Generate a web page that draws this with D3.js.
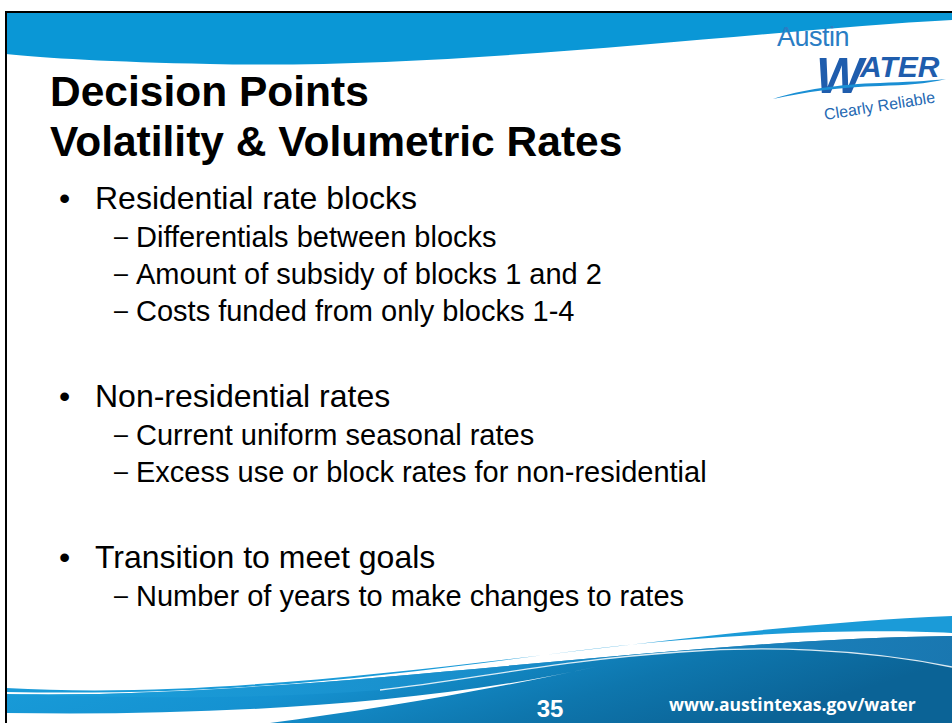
<!DOCTYPE html>
<html>
<head>
<meta charset="utf-8">
<script src="https://cdn.jsdelivr.net/npm/d3@7"></script>
<style>
  body { margin: 0; background: #ffffff; }
  svg { display: block; }
</style>
</head>
<body>
<script>
var w = 952;
var h = 723;

// slide content
var titleLines = ["Decision Points", "Volatility & Volumetric Rates"];
var bulletLevels = [0, 1, 1, 1, 0, 1, 1, 0, 1];
var bulletTexts = [
  "Residential rate blocks",
  "Differentials between blocks",
  "Amount of subsidy of blocks 1 and 2",
  "Costs funded from only blocks 1-4",
  "Non-residential rates",
  "Current uniform seasonal rates",
  "Excess use or block rates for non-residential",
  "Transition to meet goals",
  "Number of years to make changes to rates"
];
var pageNumber = "35";
var footerUrl = "www.austintexas.gov/water";

var font = "Liberation Sans, Arial, sans-serif";

var svg = d3.select("body").append("svg")
            .attr("width", w)
            .attr("height", h);

var defs = svg.append("defs");

var g1 = defs.append("linearGradient")
    .attr("id", "bottomGrad")
    .attr("x1", "0").attr("y1", "0")
    .attr("x2", "1").attr("y2", "0.3");
g1.append("stop").attr("offset", "0").attr("stop-color", "#1aa0dc");
g1.append("stop").attr("offset", "0.45").attr("stop-color", "#1592d1");
g1.append("stop").attr("offset", "0.75").attr("stop-color", "#0e76ad");
g1.append("stop").attr("offset", "1").attr("stop-color", "#0b6396");

var g2 = defs.append("linearGradient")
    .attr("id", "upperBand")
    .attr("x1", "0").attr("y1", "0")
    .attr("x2", "1").attr("y2", "0");
g2.append("stop").attr("offset", "0").attr("stop-color", "#1aa0dc");
g2.append("stop").attr("offset", "0.5").attr("stop-color", "#1a8fcc");
g2.append("stop").attr("offset", "1").attr("stop-color", "#1b79b3");

// top banner
svg.append("path")
   .attr("d", "M6,12 L952,12 L952,20 C760,30 460,70 210,64 C110,62 45,58 6,54 Z")
   .attr("fill", "#0a97d6");

// bottom swooshes
// main region
svg.append("path")
   .attr("d", "M6,694 C300,700 650,640 952,636 L952,723 L6,723 Z")
   .attr("fill", "url(#bottomGrad)");

// upper part of main region, above the thin white line
svg.append("path")
   .attr("d", "M6,694 C300,700 650,640 952,636 L952,667 C860,648 760,646 680,652 C560,660 470,680 380,690 C250,700 120,698 6,694 Z")
   .attr("fill", "url(#upperBand)")
   .attr("opacity", 0.9);

// thin white line
svg.append("path")
   .attr("d", "M380,690 C470,680 560,660 680,652 C760,646 860,648 952,667")
   .attr("fill", "none")
   .attr("stroke", "#ffffff")
   .attr("stroke-width", 1.3)
   .attr("opacity", 0.85);

// white wedge lower left
svg.append("path")
   .attr("d", "M6,713 C200,716 420,706 600,666 C490,690 370,710 270,723 L6,723 Z")
   .attr("fill", "#ffffff");

// thin top swoosh band
svg.append("path")
   .attr("d", "M6,688 C300,705 650,628 952,616 L952,633 C860,628 720,634 600,648 C420,670 260,697 6,692 Z")
   .attr("fill", "#1b9bd8");

// slide border
svg.append("line")
   .attr("x1", 5).attr("y1", 12).attr("x2", w).attr("y2", 12)
   .attr("stroke", "#000000").attr("stroke-width", 2);
svg.append("line")
   .attr("x1", 6).attr("y1", 11).attr("x2", 6).attr("y2", h)
   .attr("stroke", "#000000").attr("stroke-width", 2);

// logo
var logo = svg.append("g");
logo.append("text")
    .attr("x", 777).attr("y", 46)
    .attr("font-family", font)
    .attr("font-size", "27px")
    .attr("fill", "#2a7dc4")
    .attr("letter-spacing", "-0.5")
    .text("Austin");
logo.append("text")
    .attr("x", 816).attr("y", 93)
    .attr("font-family", font)
    .attr("font-size", "50px")
    .attr("font-weight", "bold")
    .attr("font-style", "italic")
    .attr("fill", "#1f5dad")
    .text("W");
logo.append("text")
    .attr("x", 860).attr("y", 77)
    .attr("font-family", font)
    .attr("font-size", "30px")
    .attr("font-weight", "bold")
    .attr("font-style", "italic")
    .attr("fill", "#1f5dad")
    .text("ATER");
logo.append("path")
    .attr("d", "M773,99 C800,90 840,84 880,83 C905,82 928,81 946,79 C926,84 905,85 880,86 C840,87 805,92 773,99 Z")
    .attr("fill", "#1a8fd4");
logo.append("text")
    .attr("transform", "translate(825,120) rotate(-9)")
    .attr("font-family", font)
    .attr("font-size", "16px")
    .attr("fill", "#2468b2")
    .text("Clearly Reliable");

// title
svg.selectAll(".title")
   .data(titleLines)
   .enter()
   .append("text")
   .attr("class", "title")
   .attr("x", 50)
   .attr("y", function(d, i) { return 106 + i * 50; })
   .attr("font-family", font)
   .attr("font-size", "42.5px")
   .attr("font-weight", "bold")
   .attr("fill", "#000000")
   .text(function(d) { return d; });

// bullets - running baseline
var ys = [];
var y = 209;
bulletLevels.forEach(function(lv, i) {
  if (i > 0) {
    if (lv === 0) y += 86;
    else if (bulletLevels[i - 1] === 0) y += 38;
    else y += 37;
  }
  ys.push(y);
});

var items = svg.selectAll(".item")
   .data(bulletTexts)
   .enter()
   .append("g")
   .attr("class", "item");

items.append("text")
   .attr("x", function(d, i) { return bulletLevels[i] === 0 ? 59 : 114; })
   .attr("y", function(d, i) { return ys[i]; })
   .attr("dy", function(d, i) { return bulletLevels[i] === 0 ? 0 : -2; })
   .attr("font-family", font)
   .attr("font-size", function(d, i) { return bulletLevels[i] === 0 ? "32px" : "25px"; })
   .attr("fill", "#000000")
   .text(function(d, i) { return bulletLevels[i] === 0 ? "\u2022" : "\u2013"; });

items.append("text")
   .attr("x", function(d, i) { return bulletLevels[i] === 0 ? 95 : 136; })
   .attr("y", function(d, i) { return ys[i]; })
   .attr("font-family", font)
   .attr("font-size", function(d, i) { return bulletLevels[i] === 0 ? "32px" : "29px"; })
   .attr("fill", "#000000")
   .text(function(d) { return d; });

// footer
svg.append("text")
   .attr("x", 550).attr("y", 717)
   .attr("text-anchor", "middle")
   .attr("font-family", font)
   .attr("font-size", "24px")
   .attr("font-weight", "bold")
   .attr("fill", "#ffffff")
   .text(pageNumber);

svg.append("text")
   .attr("x", 669).attr("y", 711)
   .attr("font-family", "Open Sans, sans-serif")
   .attr("font-size", "17.5px")
   .attr("font-weight", "bold")
   .attr("fill", "#ffffff")
   .text(footerUrl);
</script>
</body>
</html>
